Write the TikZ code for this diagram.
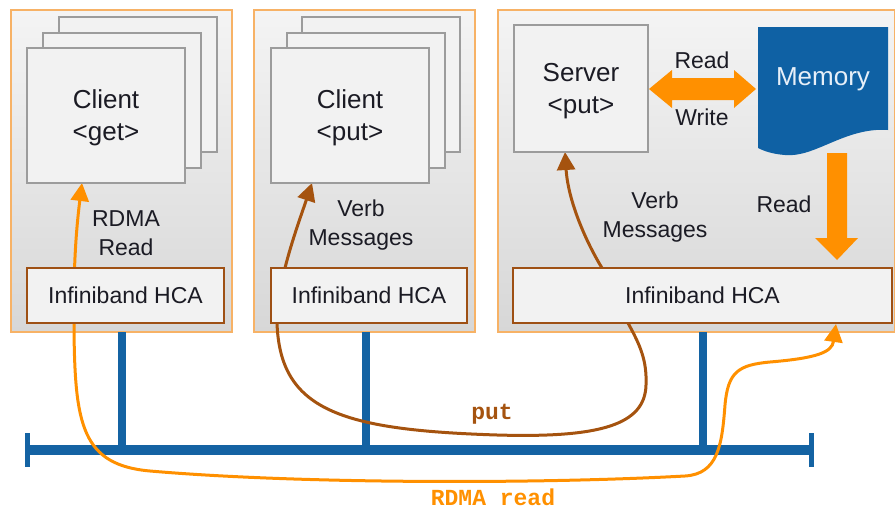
\documentclass[tikz,border=0pt]{standalone}
\usepackage{fontspec}
\setmainfont{Liberation Sans}
\setmonofont{Liberation Mono}
\usetikzlibrary{arrows.meta,calc}

\definecolor{panelline}{HTML}{F7B266}
\definecolor{paneltop}{HTML}{F4F4F4}
\definecolor{panelbot}{HTML}{D7D7D7}
\definecolor{boxfill}{HTML}{F2F2F2}
\definecolor{boxline}{HTML}{9C9C9C}
\definecolor{hcaline}{HTML}{9E5014}
\definecolor{busblue}{HTML}{1463A3}
\definecolor{memblue}{HTML}{0F61A4}
\definecolor{flow}{HTML}{FF9000}
\definecolor{putbrown}{HTML}{A5530F}
\definecolor{ink}{HTML}{1B1B24}
\definecolor{memtext}{HTML}{E6EFF8}

\pgfdeclarelayer{bg}
\pgfdeclarelayer{flows}
\pgfsetlayers{bg,flows,main}

\begin{document}
\begin{tikzpicture}[x=1pt,y=-1pt,
  every node/.style={inner sep=0pt, outer sep=0pt},
  panel/.style={draw=panelline, line width=1.3pt, top color=paneltop,
    bottom color=panelbot, anchor=north west, minimum height=322pt},
  card/.style={draw=boxline, line width=1.3pt, fill=boxfill,
    anchor=north west, minimum width=158pt, minimum height=135pt},
  hcabox/.style={draw=hcaline, line width=2.3pt, fill=boxfill,
    anchor=north west, minimum height=55pt, text=ink,
    font=\fontsize{23}{27}\selectfont},
  title/.style={text=ink, align=center, font=\fontsize{26}{32}\selectfont},
  note/.style={text=ink, align=center, font=\fontsize{23}{29}\selectfont},
  codelabel/.style={anchor=base, font=\fontsize{23}{27}\selectfont\ttfamily\bfseries},
  bus/.style={busblue, line width=10pt},
  buscap/.style={busblue, line width=5pt},
  drop/.style={busblue, line width=8pt},
  flowline/.style={flow, line width=3pt, {Triangle[length=18pt, width=18pt]}-{Triangle[length=18pt, width=18pt]}},
  putline/.style={putbrown, line width=3pt, {Triangle[length=18pt, width=18pt]}-{Triangle[length=18pt, width=18pt]}}
]
\useasboundingbox (0,0) rectangle (895,509);

% host panels, network bus and its drops
\begin{pgfonlayer}{bg}
  \node[panel, minimum width=221pt] (panel1) at (11,10) {};
  \node[panel, minimum width=221pt] (panel2) at (254,10) {};
  \node[panel, minimum width=397pt] (panel3) at (498,10) {};

  \coordinate (busL) at (27,450);
  \coordinate (busR) at (812,450);
  \draw[bus] (busL) -- (busR);
  \draw[buscap] ($(busL)+(0.5,-17)$) -- ($(busL)+(0.5,17)$);
  \draw[buscap] ($(busR)+(-0.5,-17)$) -- ($(busR)+(-0.5,17)$);
  \draw[drop] (122,332) -- (122,450);
  \draw[drop] (366,332) -- (366,450);
  \draw[drop] (703,332) -- (703,450);
\end{pgfonlayer}

% client stacks
\node[card] (c1back) at (59,17) {};
\node[card] (c1mid)  at (43,33) {};
\node[card] (c1)     at (27,48) {};
\node[title] at ($(c1.center)+(0,2.5)$) {Client\\<get>};

\node[card] (c2back) at (302,17) {};
\node[card] (c2mid)  at (287,33) {};
\node[card] (c2)     at (271,48) {};
\node[title] at ($(c2.center)+(0,2.5)$) {Client\\<put>};

% server and memory
\node[card, minimum width=134pt, minimum height=127pt] (srv) at (514,25) {};
\node[title] at ($(srv.center)+(0,2.5)$) {Server\\<put>};

\fill[memblue] (758,27) -- (888,27) -- (888,130)
  .. controls (845,127) and (815,158) .. (785,155)
  .. controls (772,154) and (764,151) .. (758,148) -- cycle;
\node[title, text=memtext] (mem) at (823,79) {Memory};

% read/write exchange between server and memory
\fill[flow] (649,89) -- (672,70) -- (672,78) -- (734,78) -- (734,70)
  -- (756,89) -- (734,108) -- (734,100) -- (672,100) -- (672,108) -- cycle;
\node[note] (rdlbl) at (702,60) {Read};
\node[note] (wrlbl) at (702,117) {Write};

% read from memory down to the HCA
\fill[flow] (827,153) -- (847,153) -- (847,238) -- (858,238) -- (837,260)
  -- (815,238) -- (827,238) -- cycle;
\node[note] (rd2lbl) at (784,204) {Read};

% host channel adapters
\node[hcabox, minimum width=197pt] (hca1) at (27,268) {Infiniband HCA};
\node[hcabox, minimum width=196pt] (hca2) at (271,268) {Infiniband HCA};
\node[hcabox, minimum width=379pt] (hca3) at (513,268) {Infiniband HCA};

% edge labels inside the panels
\node[note] (l1) at (126,233) {RDMA\\Read};
\node[note] (l2) at (361,225) {Verb\\Messages};
\node[note] (l3) at (655,217) {Verb\\Messages};

% traffic paths, drawn beneath the HCA boxes
\coordinate (c1tip)   at ($(c1.south west)+(55,0)$);
\coordinate (c2tip)   at ($(c2.south west)+(41,0)$);
\coordinate (srvtip)  at ($(srv.south west)+(51,0)$);
\coordinate (hca3tip) at ($(hca3.south west)+(323,1)$);

\begin{pgfonlayer}{flows}
  \draw[flowline] (c1tip) .. controls (78,215) and (74,250) .. (74,300)
    -- (74,330) .. controls (75,425) and (82,465) .. (150,471)
    .. controls (300,484) and (540,484) .. (685,476)
    .. controls (718,474) and (722,445) .. (725,405)
    .. controls (728,372) and (738,365) .. (770,362)
    .. controls (818,358) and (832,352) .. (hca3tip);
  \draw[putline] (srvtip) .. controls (568,200) and (585,240) .. (602,268)
    -- (628,323) .. controls (640,345) and (647,360) .. (646,385)
    .. controls (645,425) and (600,438) .. (497,435)
    .. controls (340,430) and (280,410) .. (277,323)
    -- (285,268) .. controls (292,240) and (303,210) .. (c2tip);
\end{pgfonlayer}

\node[codelabel, text=putbrown] (putlbl) at (492,419) {put};
\node[codelabel, text=flow] (rdmalbl) at (493,505) {RDMA read};
\end{tikzpicture}
\end{document}
